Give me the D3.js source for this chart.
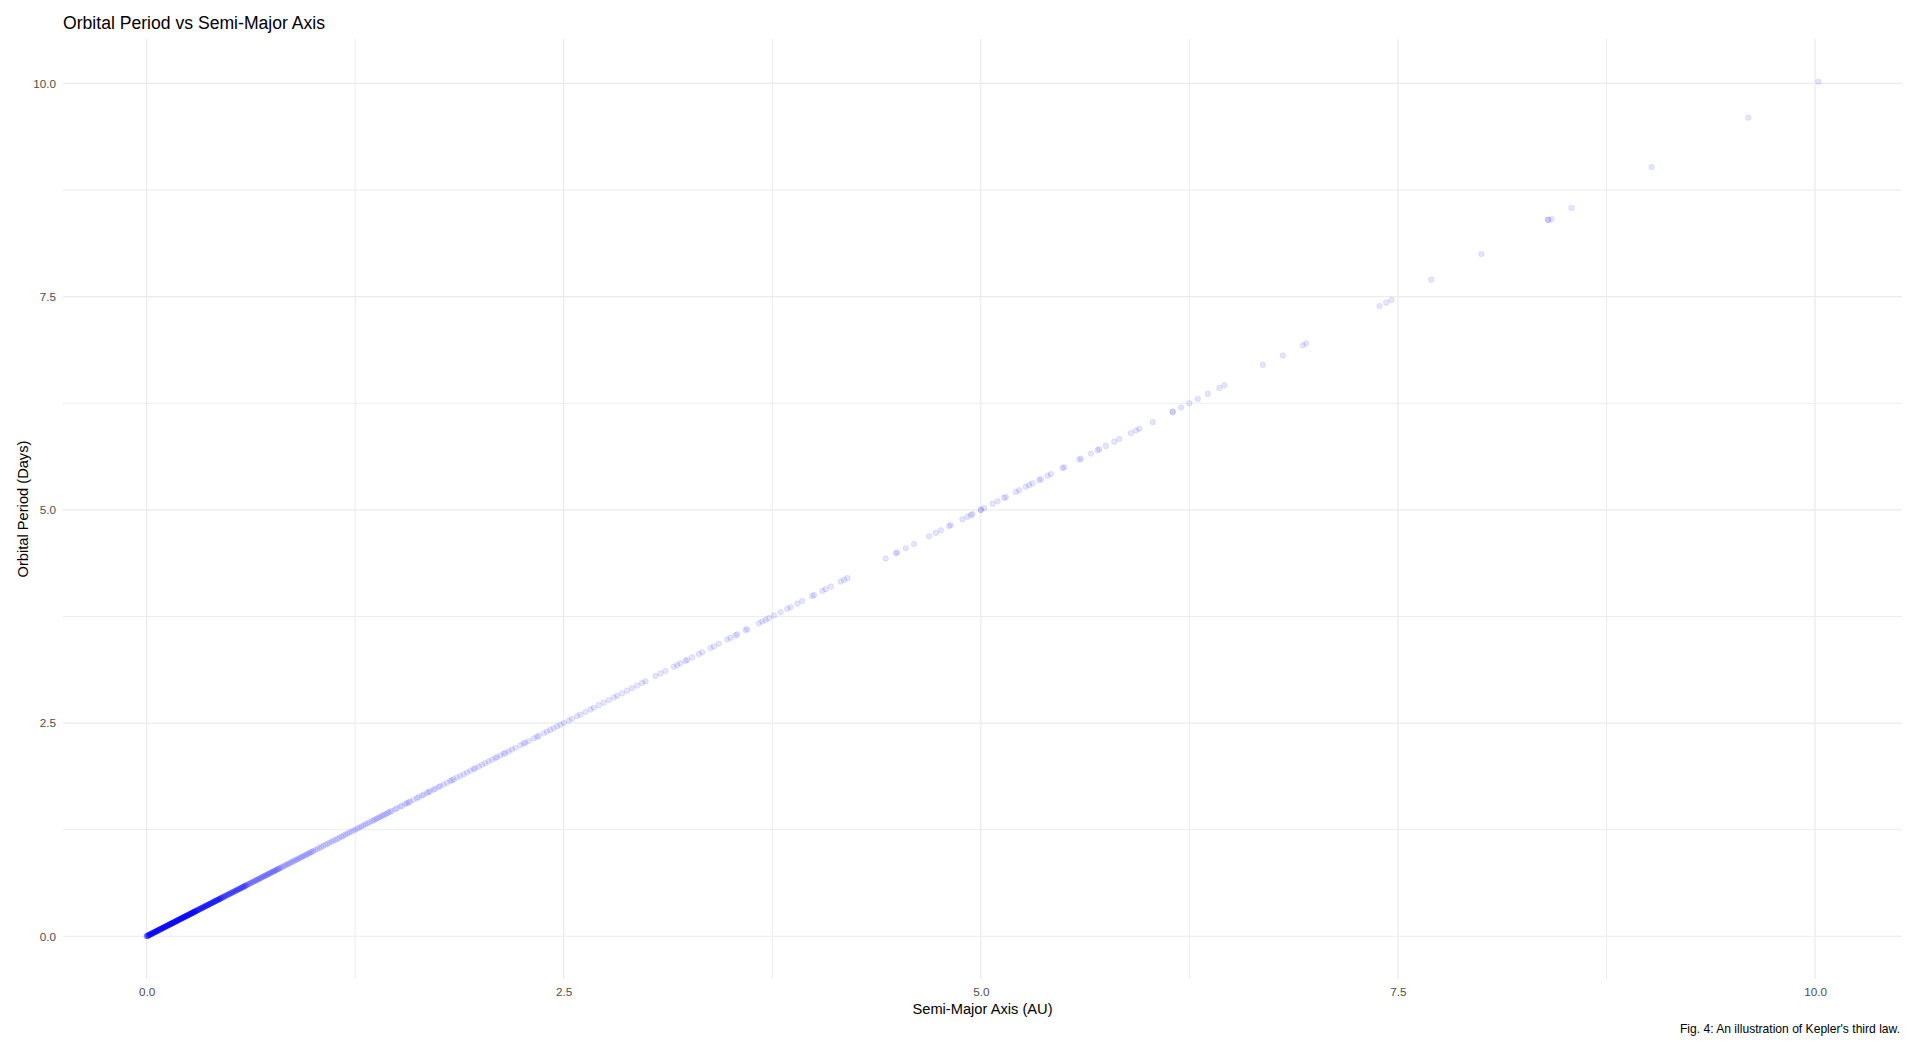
<!DOCTYPE html>
<html><head><meta charset="utf-8">
<script src="https://cdn.jsdelivr.net/npm/d3@7"></script>
<style>html,body{margin:0;padding:0;background:#fff;}svg{display:block;font-family:"Liberation Sans",Arial,sans-serif;}</style>
</head><body><svg id="chart" width="1917" height="1054"></svg>
<script>
const chartTitle = "Orbital Period vs Semi-Major Axis";
const xTitle = "Semi-Major Axis (AU)";
const yTitle = "Orbital Period (Days)";
const captionText = "Fig. 4: An illustration of Kepler's third law.";
const majorTicks = [0, 2.5, 5, 7.5, 10];
const minorTicks = [1.25, 3.75, 6.25, 8.75];
const tickLabels = ["0.0", "2.5", "5.0", "7.5", "10.0"];

// [semi-major axis (AU), orbital period (days)]
const orbitPoints = [
[0,0],[0.001,0.001],[0.003,0.003],[0.004,0.004],[0.006,0.006],[0.007,0.007],[0.009,0.009],[0.010,0.010],[0.012,0.012],[0.013,0.013],
[0.015,0.015],[0.016,0.016],[0.018,0.018],[0.019,0.019],[0.021,0.021],[0.022,0.022],[0.024,0.024],[0.025,0.025],[0.027,0.027],[0.028,0.028],
[0.030,0.030],[0.031,0.031],[0.033,0.033],[0.034,0.034],[0.036,0.036],[0.037,0.037],[0.039,0.039],[0.040,0.040],[0.042,0.042],[0.043,0.043],
[0.045,0.045],[0.046,0.046],[0.048,0.048],[0.049,0.049],[0.051,0.051],[0.052,0.052],[0.054,0.054],[0.055,0.055],[0.057,0.057],[0.058,0.058],
[0.060,0.060],[0.061,0.061],[0.063,0.063],[0.064,0.064],[0.066,0.066],[0.067,0.067],[0.069,0.069],[0.070,0.070],[0.072,0.072],[0.073,0.073],
[0.075,0.075],[0.076,0.076],[0.078,0.078],[0.079,0.079],[0.081,0.081],[0.082,0.082],[0.084,0.084],[0.085,0.085],[0.087,0.087],[0.088,0.088],
[0.090,0.090],[0.091,0.091],[0.093,0.093],[0.094,0.094],[0.096,0.096],[0.097,0.097],[0.099,0.099],[0.100,0.100],[0.102,0.102],[0.103,0.103],
[0.105,0.105],[0.106,0.106],[0.108,0.108],[0.109,0.109],[0.111,0.111],[0.112,0.112],[0.114,0.114],[0.115,0.115],[0.117,0.117],[0.118,0.118],
[0.120,0.120],[0.121,0.121],[0.123,0.123],[0.124,0.124],[0.126,0.126],[0.127,0.127],[0.129,0.129],[0.130,0.130],[0.132,0.132],[0.133,0.133],
[0.135,0.135],[0.136,0.136],[0.138,0.138],[0.139,0.139],[0.141,0.141],[0.142,0.142],[0.144,0.144],[0.145,0.145],[0.147,0.147],[0.148,0.148],
[0.150,0.150],[0.151,0.151],[0.153,0.153],[0.154,0.154],[0.156,0.156],[0.157,0.157],[0.159,0.159],[0.160,0.160],[0.162,0.162],[0.163,0.163],
[0.165,0.165],[0.166,0.166],[0.168,0.168],[0.169,0.169],[0.171,0.171],[0.172,0.172],[0.174,0.174],[0.175,0.175],[0.177,0.177],[0.178,0.178],
[0.180,0.180],[0.181,0.181],[0.183,0.183],[0.184,0.184],[0.186,0.186],[0.187,0.187],[0.189,0.189],[0.190,0.190],[0.192,0.192],[0.193,0.193],
[0.195,0.195],[0.196,0.196],[0.198,0.198],[0.199,0.199],[0.201,0.201],[0.202,0.202],[0.204,0.204],[0.205,0.205],[0.207,0.207],[0.208,0.208],
[0.210,0.210],[0.211,0.211],[0.213,0.213],[0.214,0.214],[0.216,0.216],[0.217,0.217],[0.219,0.219],[0.220,0.220],[0.222,0.222],[0.223,0.223],
[0.225,0.225],[0.226,0.226],[0.228,0.228],[0.229,0.229],[0.231,0.231],[0.232,0.232],[0.234,0.234],[0.235,0.235],[0.237,0.237],[0.238,0.238],
[0.240,0.240],[0.241,0.241],[0.243,0.243],[0.244,0.244],[0.246,0.246],[0.247,0.247],[0.249,0.249],[0.250,0.250],[0.252,0.252],[0.253,0.253],
[0.255,0.255],[0.256,0.256],[0.258,0.258],[0.259,0.259],[0.261,0.261],[0.262,0.262],[0.264,0.264],[0.265,0.265],[0.267,0.267],[0.268,0.268],
[0.270,0.270],[0.271,0.271],[0.273,0.273],[0.274,0.274],[0.276,0.276],[0.277,0.277],[0.279,0.279],[0.280,0.280],[0.282,0.282],[0.283,0.283],
[0.285,0.285],[0.286,0.286],[0.288,0.288],[0.289,0.289],[0.291,0.291],[0.292,0.292],[0.294,0.294],[0.295,0.295],[0.297,0.297],[0.298,0.298],
[0.300,0.300],[0.302,0.302],[0.304,0.304],[0.306,0.306],[0.308,0.308],[0.310,0.310],[0.312,0.312],[0.314,0.314],[0.316,0.316],[0.318,0.318],
[0.320,0.320],[0.322,0.322],[0.324,0.324],[0.326,0.326],[0.328,0.328],[0.330,0.330],[0.332,0.332],[0.334,0.334],[0.336,0.336],[0.338,0.338],
[0.340,0.340],[0.342,0.342],[0.344,0.344],[0.346,0.346],[0.348,0.348],[0.350,0.350],[0.352,0.352],[0.354,0.354],[0.356,0.356],[0.358,0.358],
[0.360,0.360],[0.362,0.362],[0.364,0.364],[0.366,0.366],[0.368,0.368],[0.370,0.370],[0.372,0.372],[0.374,0.374],[0.376,0.376],[0.378,0.378],
[0.380,0.380],[0.382,0.382],[0.384,0.384],[0.386,0.386],[0.388,0.388],[0.390,0.390],[0.392,0.392],[0.394,0.394],[0.396,0.396],[0.398,0.398],
[0.400,0.400],[0.402,0.402],[0.404,0.404],[0.406,0.406],[0.408,0.408],[0.410,0.410],[0.412,0.412],[0.414,0.414],[0.416,0.416],[0.418,0.418],
[0.420,0.420],[0.422,0.422],[0.424,0.424],[0.426,0.426],[0.428,0.428],[0.430,0.430],[0.432,0.432],[0.434,0.434],[0.436,0.436],[0.438,0.438],
[0.440,0.440],[0.442,0.442],[0.444,0.444],[0.446,0.446],[0.448,0.448],[0.450,0.450],
[0.453,0.453],[0.456,0.456],[0.459,0.459],[0.462,0.462],[0.465,0.465],[0.468,0.468],[0.471,0.471],[0.474,0.474],[0.477,0.477],[0.480,0.480],
[0.483,0.483],[0.486,0.486],[0.489,0.489],[0.492,0.492],[0.495,0.495],[0.498,0.498],[0.501,0.501],[0.504,0.504],[0.507,0.507],[0.510,0.510],
[0.513,0.513],[0.516,0.516],[0.519,0.519],[0.522,0.522],[0.525,0.525],[0.528,0.528],[0.531,0.531],[0.534,0.534],[0.537,0.537],[0.540,0.540],
[0.543,0.543],[0.546,0.546],[0.549,0.549],[0.552,0.552],[0.555,0.555],[0.558,0.558],[0.561,0.561],[0.564,0.564],[0.567,0.567],[0.570,0.570],
[0.573,0.573],[0.576,0.576],[0.579,0.579],[0.582,0.582],[0.585,0.585],[0.588,0.588],[0.591,0.591],[0.594,0.594],[0.597,0.597],[0.600,0.600],
[0.605,0.605],[0.610,0.610],[0.615,0.615],[0.620,0.620],[0.625,0.625],[0.630,0.630],[0.635,0.635],[0.640,0.640],[0.645,0.645],[0.650,0.650],
[0.655,0.655],[0.660,0.660],[0.665,0.665],[0.670,0.670],[0.675,0.675],[0.680,0.680],[0.685,0.685],[0.690,0.690],[0.695,0.695],[0.700,0.700],
[0.705,0.705],[0.710,0.710],[0.715,0.715],[0.720,0.720],[0.725,0.725],[0.730,0.730],[0.735,0.735],[0.740,0.740],[0.745,0.745],[0.750,0.750],
[0.755,0.755],[0.760,0.760],[0.765,0.765],[0.770,0.770],[0.775,0.775],[0.780,0.780],[0.785,0.785],[0.790,0.790],[0.795,0.795],[0.800,0.800],
[0.808,0.808],[0.816,0.816],[0.824,0.824],[0.832,0.832],[0.840,0.840],[0.848,0.848],[0.856,0.856],[0.864,0.864],[0.872,0.872],[0.880,0.880],
[0.888,0.888],[0.896,0.896],[0.904,0.904],[0.912,0.912],[0.920,0.920],[0.928,0.928],[0.936,0.936],[0.944,0.944],[0.952,0.952],[0.960,0.960],
[0.968,0.968],[0.976,0.976],[0.984,0.984],[0.992,0.992],[1.000,1.000],
[1.012,1.012],[1.024,1.024],[1.036,1.036],[1.048,1.048],[1.060,1.060],[1.072,1.072],[1.084,1.084],[1.096,1.096],[1.108,1.108],[1.120,1.120],
[1.132,1.132],[1.144,1.144],[1.156,1.156],[1.168,1.168],[1.180,1.180],[1.192,1.192],[1.204,1.204],[1.216,1.216],[1.228,1.228],[1.240,1.240],
[1.252,1.252],[1.264,1.264],[1.276,1.276],[1.288,1.288],[1.300,1.300],[1.312,1.312],[1.324,1.324],[1.336,1.336],
[1.35,1.35],[1.36,1.36],[1.37,1.37],[1.38,1.38],[1.39,1.39],[1.40,1.40],[1.41,1.41],[1.42,1.42],[1.43,1.43],[1.44,1.44],
[1.45,1.45],[1.46,1.46],[1.47,1.47],[1.49,1.49],[1.50,1.50],[1.52,1.52],[1.53,1.53],[1.55,1.55],[1.56,1.56],[1.57,1.57],
[1.58,1.58],[1.60,1.60],[1.62,1.62],[1.63,1.63],[1.65,1.65],[1.66,1.66],[1.68,1.68],[1.69,1.69],[1.70,1.70],[1.72,1.72],
[1.73,1.73],[1.75,1.75],[1.76,1.76],[1.78,1.78],[1.80,1.80],[1.82,1.82],[1.83,1.83],[1.84,1.84],[1.86,1.86],[1.88,1.88],
[1.90,1.90],[1.92,1.92],[1.94,1.94],[1.96,1.96],[1.97,1.97],[1.99,1.99],[2.01,2.01],[2.03,2.03],[2.05,2.05],[2.07,2.07],
[2.09,2.09],[2.10,2.10],[2.12,2.12],[2.14,2.14],[2.15,2.15],[2.17,2.17],[2.19,2.19],[2.21,2.21],[2.24,2.24],[2.26,2.26],
[2.27,2.27],[2.29,2.29],[2.32,2.32],[2.34,2.34],[2.35,2.35],[2.38,2.38],[2.40,2.40],[2.42,2.42],[2.44,2.44],[2.46,2.46],
[2.48,2.48],[2.50,2.50],
[2.53,2.53],[2.55,2.55],[2.58,2.58],[2.60,2.60],[2.63,2.63],[2.66,2.66],[2.68,2.68],[2.71,2.71],[2.74,2.74],[2.77,2.77],
[2.80,2.80],[2.82,2.82],[2.85,2.85],[2.88,2.88],[2.91,2.91],[2.94,2.94],
[2.97,2.97],[2.99,2.99],[3.05,3.05],[3.08,3.08],[3.11,3.11],[3.16,3.16],[3.18,3.18],[3.20,3.20],[3.23,3.23],[3.24,3.24],
[3.27,3.27],[3.31,3.31],[3.33,3.33],[3.38,3.38],[3.40,3.40],[3.43,3.43],[3.48,3.48],[3.50,3.50],[3.53,3.53],[3.54,3.54],
[3.59,3.59],[3.60,3.60],[3.67,3.67],[3.69,3.69],[3.71,3.71],[3.73,3.73],[3.76,3.76],[3.80,3.80],[3.84,3.84],[3.86,3.86],
[3.90,3.90],[3.93,3.93],[3.99,3.99],[4.00,4.00],[4.05,4.05],[4.07,4.07],[4.10,4.10],[4.16,4.16],[4.18,4.18],[4.20,4.20],
[4.43,4.43],[4.49,4.49],[4.50,4.50],[4.55,4.55],[4.60,4.60],[4.69,4.69],[4.73,4.73],[4.76,4.76],[4.81,4.81],[4.82,4.82],
[4.89,4.89],[4.92,4.92],[4.94,4.94],[4.95,4.95],[5.00,5.00],[5.00,5.00],[5.02,5.02],[5.07,5.07],[5.10,5.10],[5.14,5.14],
[5.15,5.15],[5.21,5.21],[5.23,5.23],[5.27,5.27],[5.29,5.29],[5.31,5.31],[5.35,5.35],[5.36,5.36],[5.40,5.40],[5.42,5.42],
[5.49,5.49],[5.50,5.50],[5.59,5.59],[5.60,5.60],[5.66,5.66],[5.70,5.70],[5.71,5.71],[5.75,5.75],[5.80,5.80],[5.83,5.83],
[5.90,5.90],[5.93,5.93],[5.95,5.95],[6.03,6.03],[6.15,6.15],[6.15,6.15],[6.20,6.20],[6.25,6.25],[6.30,6.30],[6.36,6.36],
[6.43,6.43],[6.46,6.46],[6.69,6.70],[6.81,6.81],[6.93,6.93],[6.95,6.95],[7.39,7.39],[7.43,7.43],[7.46,7.46],[7.70,7.70],
[8.00,8.00],[8.40,8.40],[8.40,8.40],[8.42,8.41],[8.54,8.54],[9.02,9.02],[9.60,9.60],[10.02,10.02]
];

const svg = d3.select("#chart");
const panel = {left: 63, right: 1902, top: 39, bottom: 979};

function expand(ext) { const r = ext[1] - ext[0]; return [ext[0] - r * 0.05, ext[1] + r * 0.05]; }
const x = d3.scaleLinear().domain(expand(d3.extent(orbitPoints, d => d[0]))).range([panel.left, panel.right]);
const y = d3.scaleLinear().domain(expand(d3.extent(orbitPoints, d => d[1]))).range([panel.bottom, panel.top]);

const grid = svg.append("g");
grid.selectAll("line.vminor").data(minorTicks).join("line")
  .attr("x1", d => x(d)).attr("x2", d => x(d)).attr("y1", panel.top).attr("y2", panel.bottom)
  .attr("stroke", "#ebebeb").attr("stroke-width", 0.9);
grid.selectAll("line.hminor").data(minorTicks).join("line")
  .attr("y1", d => y(d)).attr("y2", d => y(d)).attr("x1", panel.left).attr("x2", panel.right)
  .attr("stroke", "#ebebeb").attr("stroke-width", 0.9);
grid.selectAll("line.vmajor").data(majorTicks).join("line")
  .attr("x1", d => x(d)).attr("x2", d => x(d)).attr("y1", panel.top).attr("y2", panel.bottom)
  .attr("stroke", "#ebebeb").attr("stroke-width", 1.2);
grid.selectAll("line.hmajor").data(majorTicks).join("line")
  .attr("y1", d => y(d)).attr("y2", d => y(d)).attr("x1", panel.left).attr("x2", panel.right)
  .attr("stroke", "#ebebeb").attr("stroke-width", 1.2);

svg.append("g").selectAll("circle").data(orbitPoints).join("circle")
  .attr("cx", d => x(d[0])).attr("cy", d => y(d[1])).attr("r", 2.8)
  .attr("fill", "#0000ff").attr("fill-opacity", 0.1)
  .attr("stroke", "#0000ff").attr("stroke-opacity", 0.1).attr("stroke-width", 0.8);

const xAxis = svg.append("g").attr("transform", `translate(0,${panel.bottom})`)
  .call(d3.axisBottom(x).tickValues(majorTicks).tickFormat((d, i) => tickLabels[i]).tickSize(0).tickPadding(9));
const yAxis = svg.append("g").attr("transform", `translate(${panel.left},0)`)
  .call(d3.axisLeft(y).tickValues(majorTicks).tickFormat((d, i) => tickLabels[i]).tickSize(0).tickPadding(7));
[xAxis, yAxis].forEach(a => {
  a.select(".domain").remove();
  a.selectAll("text").attr("fill", "#4d4d4d").style("font-size", "11.7px").style("font-family", '"Liberation Sans",Arial,sans-serif');
});

svg.append("text").attr("x", 63).attr("y", 29).attr("font-size", "17.6px").attr("fill", "#000").text(chartTitle);
svg.append("text").attr("x", (panel.left + panel.right) / 2).attr("y", 1014).attr("text-anchor", "middle")
  .attr("font-size", "14.67px").attr("fill", "#000").text(xTitle);
svg.append("text").attr("transform", `translate(27.5,${(panel.top + panel.bottom) / 2}) rotate(-90)`).attr("text-anchor", "middle")
  .attr("font-size", "14.67px").attr("fill", "#000").text(yTitle);
svg.append("text").attr("x", 1900).attr("y", 1033).attr("text-anchor", "end")
  .attr("font-size", "12.1px").attr("fill", "#000").text(captionText);
</script></body></html>
